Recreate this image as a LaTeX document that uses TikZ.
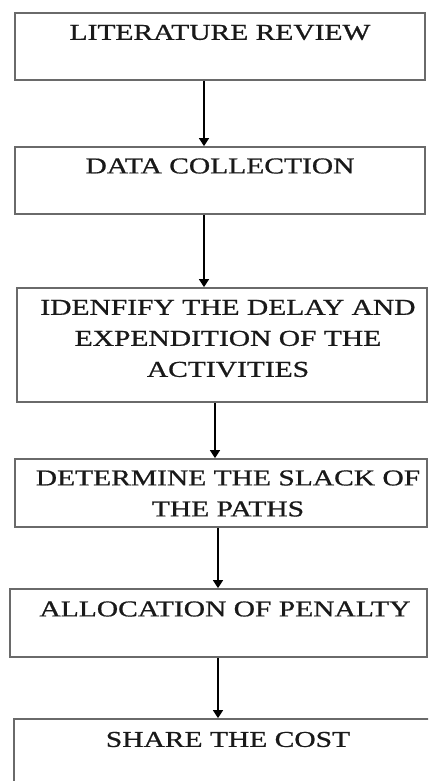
\documentclass[tikz,border=0pt]{standalone}
\usepackage{fontspec}
\setmainfont{Liberation Serif}
\newfontfamily\heavyfont{Liberation Serif}[FakeBold=0.7]
\usetikzlibrary{arrows.meta}
\newcommand{\stretchtxt}[1]{\scalebox{1.3}[1]{#1}}
\definecolor{boxgray}{HTML}{6A6A6A}
\tikzset{
  stepbox/.style={draw=boxgray, line width=1.8pt, rectangle, inner sep=0pt},
  txt/.style={inner sep=0pt, align=center, text=black!90, font=\heavyfont\fontsize{22.7}{31}\selectfont},
  arr/.style={draw=black, line width=1.7pt, -{Triangle[length=8pt,width=10pt]}}
}
\begin{document}
\begin{tikzpicture}[x=1pt,y=-1pt]
\useasboundingbox (0,0) rectangle (428,781);
\clip (0,0) rectangle (428,781);
\fill[white] (0,0) rectangle (428,781);
% boxes
\node[stepbox, minimum width=410pt, minimum height=67pt] (b1) at (220,46.5) {};
\node[stepbox, minimum width=410pt, minimum height=67pt] (b2) at (220,180.5) {};
\node[stepbox, minimum width=410pt, minimum height=114pt] (b3) at (222,345) {};
\node[stepbox, minimum width=412pt, minimum height=68pt] (b4) at (221,493) {};
\node[stepbox, minimum width=417pt, minimum height=68pt] (b5) at (218.5,623) {};
\node[stepbox, minimum width=416pt, minimum height=100pt] (b6) at (222,769) {};
% texts
\node[txt] (t1) at (220,32.5) {\stretchtxt{LITERATURE REVIEW}};
\node[txt] (t2) at (220,166) {\stretchtxt{DATA COLLECTION}};
\node[txt] (t3) at (228,338.5) {\stretchtxt{IDENFIFY THE DELAY AND}\\\stretchtxt{EXPENDITION OF THE}\\\stretchtxt{ACTIVITIES}};
\node[txt] (t4) at (228,493.5) {\stretchtxt{DETERMINE THE SLACK OF}\\\stretchtxt{THE PATHS}};
\node[txt] (t5) at (225,609) {\stretchtxt{ALLOCATION OF PENALTY}};
\node[txt] (t6) at (228,739.5) {\stretchtxt{SHARE THE COST}};
% arrow x positions
\coordinate (x1) at (204,0);
\coordinate (x2) at (204,0);
\coordinate (x3) at (215,0);
\coordinate (x4) at (218,0);
\coordinate (x5) at (218,0);
\draw[arr] (b1.south -| x1) -- (b2.north -| x1);
\draw[arr] (b2.south -| x2) -- (b3.north -| x2);
\draw[arr] (b3.south -| x3) -- (b4.north -| x3);
\draw[arr] (b4.south -| x4) -- (b5.north -| x4);
\draw[arr] (b5.south -| x5) -- (b6.north -| x5);
\end{tikzpicture}
\end{document}
